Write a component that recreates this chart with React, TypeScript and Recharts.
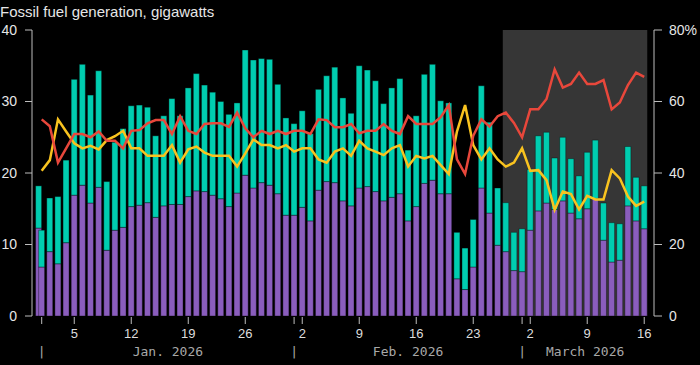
import React from "react";
import {
  ComposedChart,
  Bar,
  Line,
  XAxis,
  YAxis,
  ReferenceArea,
} from "recharts";

// Day index: 0 = Jan 1 2026 ... 74 = Mar 16 2026
const coalGen = [
  6.85, 9.0, 7.3, 10.25, 16.9, 18.3, 15.8, 18.0, 9.2, 12.0, 12.4, 15.3, 15.5, 15.85, 13.8, 15.4,
  15.6, 15.6, 16.7, 17.5, 17.4, 16.9, 16.4, 15.3, 17.2, 19.7, 17.9, 18.65, 18.3, 17.1, 14.1,
  14.1, 15.2, 13.3, 17.6, 18.8, 18.65, 16.1, 15.4, 17.9, 18.1, 17.4, 16.1, 16.6, 17.1, 13.3,
  15.3, 18.55, 19.0, 17.1, 17.1, 5.2, 3.7, 6.85, 17.9, 14.4, 9.9, 9.0, 6.35,
  6.2, 12.0, 14.7, 15.8, 14.9, 16.1, 14.4, 13.6, 15.0, 16.4, 10.6, 7.55, 7.8, 15.4, 13.3, 12.2,
];
const totalGen = [
  12.0, 16.5, 16.7, 21.8, 33.1, 35.2, 30.9, 34.3, 18.8, 24.3, 26.2, 29.4, 29.5, 29.2, 25.2, 28.0,
  30.4, 28.0, 31.9, 33.9, 32.3, 31.3, 30.0, 28.2, 29.8, 37.2, 35.8, 36.0, 35.9, 32.4, 27.7,
  26.9, 28.7, 25.5, 31.7, 33.6, 34.8, 30.5, 28.35, 35.0, 34.4, 32.9, 29.7, 31.9, 33.2, 23.2,
  28.0, 33.8, 35.2, 30.1, 29.8, 11.7, 9.5, 13.5, 32.2, 27.1, 17.9, 15.85, 11.7,
  12.2, 20.5, 25.2, 25.7, 22.1, 25.0, 22.0, 19.6, 22.9, 24.6, 15.8, 13.05, 12.9, 23.7, 19.4, 18.2,
];
const redPct = [
  55.0, 53.1, 42.9, 46.9, 50.9, 50.9, 50.0, 51.6, 49.0, 49.0, 46.9, 51.8, 52.0, 53.9, 54.8, 54.8,
  50.9, 55.9, 51.8, 50.9, 53.7, 53.9, 53.9, 52.9, 56.9, 52.5, 50.0, 51.8, 50.9, 51.8, 50.9,
  51.8, 51.8, 50.9, 55.0, 54.8, 52.8, 52.8, 53.7, 51.1, 51.8, 51.8, 53.7, 51.8, 50.9, 55.9,
  53.7, 53.7, 53.7, 55.6, 59.0, 43.8, 39.7, 50.4, 55.0, 53.0, 55.9, 56.9, 54.0,
  50.0, 57.8, 57.8, 60.7, 69.0, 63.9, 64.9, 68.1, 64.9, 64.9, 66.0, 57.8, 59.7, 64.6, 68.1, 66.9,
];
const yellowPct = [
  40.6, 43.6, 55.0, 51.6, 48.3, 46.9, 47.6, 46.6, 49.2, 50.3, 51.8, 46.9, 46.9, 44.8, 44.8, 44.8,
  47.8, 42.9, 46.6, 47.4, 45.7, 44.8, 44.8, 44.8, 41.8, 45.5, 49.4, 47.8, 47.8, 46.9, 47.8,
  46.0, 46.9, 46.9, 43.8, 42.9, 46.0, 46.9, 44.8, 49.0, 46.9, 46.0, 45.0, 46.9, 47.8, 41.8,
  44.8, 44.1, 44.8, 42.2, 39.7, 51.6, 59.0, 47.8, 43.8, 46.9, 43.8, 41.8, 42.9,
  46.9, 40.6, 40.8, 38.0, 29.7, 34.8, 34.1, 29.8, 33.6, 32.6, 32.6, 40.8, 38.5, 33.4, 30.8, 32.0,
];
// Dec 31 2025 (day -1), drawn nudged inside the frame as in the original
const dec31Total = 18.2;
const dec31Coal = 12.3;

const dayTicks = [0, 4, 11, 18, 25, 31, 32, 39, 46, 53, 59, 60, 67, 74];
const dayTickLabels = ["", "5", "12", "19", "26", "", "2", "9", "16", "23", "", "2", "9", "16"];
const monthStarts = [0, 31, 59];
const monthNames = ["Jan. 2026", "Feb. 2026", "March 2026"];
const lastDay = 74;

const DOMAIN: [number, number] = [-1.19, 75.2];
const EDGE_SHIFT = 0.63;
const shadeStart = 56.63;
const shadeEnd = 74.37;

const rows: any[] = [
  { d: -1, edgeCoal: dec31Coal, edgeGas: +(dec31Total - dec31Coal).toFixed(2) },
  ...totalGen.map((t, i) => ({
    d: i,
    coal: coalGen[i],
    gas: +(t - coalGen[i]).toFixed(2),
    red: redPct[i],
    yellow: yellowPct[i],
  })),
];

const monthMids = monthStarts.map(
  (s, i) => (s + (i + 1 < monthStarts.length ? monthStarts[i + 1] : lastDay + 0.5)) / 2
);
const allXTicks = Array.from(new Set([...dayTicks, ...monthMids])).sort((a, b) => a - b);

const SANS = '"Liberation Sans", Arial, sans-serif';
const MONO = '"DejaVu Sans Mono", monospace';
const TEAL = "#00cdb0";
const PURPLE = "#8a5dbd";
const RED = "#e8473b";
const YELLOW = "#f9c31f";
const AXIS = "#bdbdbd";

function XTick(props: any) {
  const { x, y, payload } = props;
  const v = payload?.value;
  const di = dayTicks.indexOf(v);
  const mi = monthMids.indexOf(v);
  const si = monthStarts.indexOf(v);
  return (
    <g>
      {di >= 0 && (
        <line x1={x} x2={x} y1={y + 1} y2={y + 8} stroke={AXIS} strokeWidth={1} />
      )}
      {di >= 0 && dayTickLabels[di] !== "" && (
        <text x={x} y={y + 22} textAnchor="middle" fill="#dddddd" fontSize={13} fontFamily={SANS}>
          {dayTickLabels[di]}
        </text>
      )}
      {si >= 0 && (
        <text x={x} y={y + 40} textAnchor="middle" fill="#a8a8a8" fontSize={13} fontFamily={MONO}>
          |
        </text>
      )}
      {mi >= 0 && (
        <text x={x} y={y + 40} textAnchor="middle" fill="#a8a8a8" fontSize={13} fontFamily={MONO}>
          {monthNames[mi]}
        </text>
      )}
    </g>
  );
}

export default function App() {
  return (
    <div
      style={{
        position: "absolute",
        left: 0,
        top: 0,
        width: 700,
        height: 365,
        background: "#000",
        overflow: "hidden",
      }}
    >
      <div
        style={{
          position: "absolute",
          left: 0,
          top: 4,
          fontFamily: SANS,
          fontSize: 15,
          lineHeight: "15px",
          color: "#e6e6e6",
          whiteSpace: "nowrap",
        }}
      >
        Fossil fuel generation, gigawatts
      </div>
      <ComposedChart
        width={700}
        height={365}
        data={rows}
        margin={{ top: 30, right: 0, bottom: 0, left: 0 }}
      >
        <XAxis
          xAxisId="main"
          type="number"
          dataKey="d"
          domain={DOMAIN}
          allowDataOverflow
          ticks={allXTicks}
          interval={0}
          axisLine={false}
          tickLine={false}
          tickSize={0}
          tickMargin={0}
          height={49}
          tick={<XTick />}
        />
        <XAxis
          xAxisId="edge"
          type="number"
          dataKey="d"
          hide
          height={0}
          domain={[DOMAIN[0] - EDGE_SHIFT, DOMAIN[1] - EDGE_SHIFT]}
          allowDataOverflow
        />
        <YAxis
          yAxisId="left"
          domain={[0, 40]}
          ticks={[0, 10, 20, 30, 40]}
          width={32}
          axisLine={{ stroke: AXIS }}
          tickLine={{ stroke: AXIS }}
          tickSize={7}
          tickMargin={8}
          tick={{ fill: "#e6e6e6", fontSize: 14, fontFamily: SANS }}
        />
        <YAxis
          yAxisId="right"
          orientation="right"
          domain={[0, 80]}
          ticks={[0, 20, 40, 60, 80]}
          width={46}
          tickFormatter={(v: number) => (v === 80 ? "80%" : String(v))}
          axisLine={{ stroke: AXIS }}
          tickLine={{ stroke: AXIS }}
          tickSize={8}
          tickMargin={7}
          tick={{ fill: "#e6e6e6", fontSize: 14, fontFamily: SANS, textAnchor: "start" }}
        />
        <ReferenceArea
          xAxisId="main"
          yAxisId="left"
          x1={shadeStart}
          x2={shadeEnd}
          y1={0}
          y2={40}
          fill="#363636"
          fillOpacity={1}
          stroke="none"
        />
        <Bar xAxisId="edge" yAxisId="left" dataKey="edgeCoal" stackId="e" fill={PURPLE} barSize={6} stroke="#000" strokeOpacity={0.45} strokeWidth={0.8} isAnimationActive={false} />
        <Bar xAxisId="edge" yAxisId="left" dataKey="edgeGas" stackId="e" fill={TEAL} barSize={6} stroke="#000" strokeOpacity={0.45} strokeWidth={0.8} isAnimationActive={false} />
        <Bar xAxisId="main" yAxisId="left" dataKey="coal" stackId="m" fill={PURPLE} barSize={6} stroke="#000" strokeOpacity={0.45} strokeWidth={0.8} isAnimationActive={false} />
        <Bar xAxisId="main" yAxisId="left" dataKey="gas" stackId="m" fill={TEAL} barSize={6} stroke="#000" strokeOpacity={0.45} strokeWidth={0.8} isAnimationActive={false} />
        <Line xAxisId="main" yAxisId="right" dataKey="yellow" stroke={YELLOW} strokeWidth={2.5} dot={false} activeDot={false} type="linear" isAnimationActive={false} />
        <Line xAxisId="main" yAxisId="right" dataKey="red" stroke={RED} strokeWidth={2.5} dot={false} activeDot={false} type="linear" isAnimationActive={false} />
      </ComposedChart>
    </div>
  );
}
